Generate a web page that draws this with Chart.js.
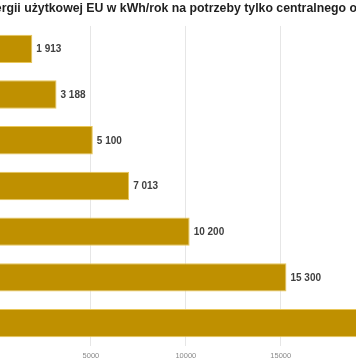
<!DOCTYPE html>
<html>
<head>
<meta charset="utf-8">
<script src="https://cdn.jsdelivr.net/npm/chart.js@4"></script>
<style>
  html, body { margin: 0; padding: 0; background: #fff; overflow: hidden; }
  #wrap { position: relative; width: 356px; height: 364px; overflow: hidden; }
  #holder { position: absolute; left: -179px; top: 0; width: 665px; height: 364px; }
</style>
</head>
<body>
<div id="wrap"><div id="holder"><canvas id="c" width="665" height="364"></canvas></div></div>
<script>
const categories = [
  "15 kWh/m²·rok",
  "25 kWh/m²·rok",
  "40 kWh/m²·rok",
  "55 kWh/m²·rok",
  "80 kWh/m²·rok",
  "120 kWh/m²·rok",
  "160 kWh/m²·rok"
];
const usefulEnergy = [1913, 3188, 5100, 7013, 10200, 15300, 20400];
const xTicks = [0, 5000, 10000, 15000, 20000, 25000];
const titleText = "Zapotrzebowanie energii użytkowej EU w kWh/rok na potrzeby tylko centralnego ogrzewania";

const fmt = v => String(v).replace(/\B(?=(\d{3})+(?!\d))/g, ' ');

const valueLabels = {
  id: 'valueLabels',
  afterDatasetsDraw(chart) {
    const ctx = chart.ctx;
    const meta = chart.getDatasetMeta(0);
    ctx.save();
    ctx.font = 'bold 10px "Liberation Sans", Arial, sans-serif';
    ctx.fillStyle = '#404040';
    ctx.textAlign = 'left';
    ctx.textBaseline = 'middle';
    meta.data.forEach((bar, i) => {
      ctx.fillText(fmt(chart.data.datasets[0].data[i]), bar.x + 4, bar.y + 0.5);
    });
    ctx.restore();
  }
};

new Chart(document.getElementById('c'), {
  type: 'bar',
  data: {
    labels: categories,
    datasets: [{
      data: usefulEnergy,
      backgroundColor: '#BF9000',
      borderColor: '#E9C75A',
      borderWidth: 1,
      borderSkipped: false,
      barPercentage: 0.62,
      categoryPercentage: 1.0
    }]
  },
  options: {
    indexAxis: 'y',
    responsive: false,
    animation: false,
    devicePixelRatio: 1,
    layout: { padding: { left: 0, right: 14, top: 0, bottom: 0 } },
    plugins: {
      legend: { display: false },
      tooltip: { enabled: false },
      title: {
        display: true,
        text: titleText,
        color: '#1f1f1f',
        font: { family: '"Liberation Sans", Arial, sans-serif', size: 12.3, weight: 'bold' },
        padding: { top: 1.5, bottom: 9.7 }
      }
    },
    scales: {
      x: {
        min: 0,
        max: 25000,
        afterBuildTicks(scale) { scale.ticks = xTicks.map(v => ({ value: v })); },
        grid: { color: '#e6e6e6', drawTicks: false },
        border: { display: false },
        ticks: {
          color: '#8a8a8a',
          padding: 5,
          callback: v => String(v),
          font: { family: '"Liberation Sans", Arial, sans-serif', size: 7.5 }
        },
        afterFit(scale) { scale.height = 18; }
      },
      y: {
        grid: { display: false },
        border: { display: false },
        ticks: {
          color: '#595959',
          font: { family: '"Liberation Sans", Arial, sans-serif', size: 9 }
        },
        afterFit(scale) { scale.width = 175; }
      }
    }
  },
  plugins: [valueLabels]
});
</script>
</body>
</html>
